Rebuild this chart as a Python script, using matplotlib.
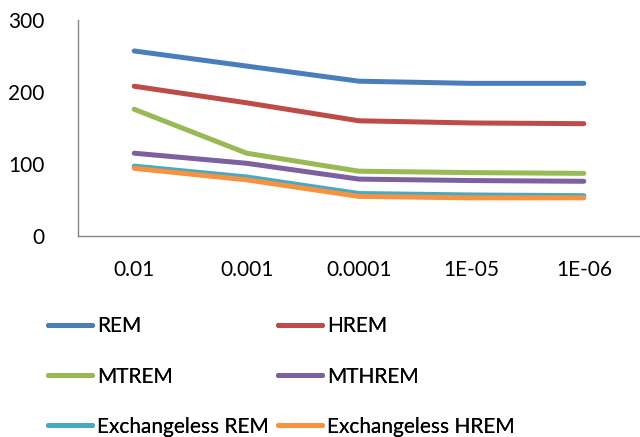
import matplotlib.pyplot as plt

plt.rcParams['font.family'] = ['Lato', 'DejaVu Sans']

categories = ['0.01', '0.001', '0.0001', '1E-05', '1E-06']
rem = [257, 236, 215, 212, 212]
hrem = [208, 185, 160, 157, 156]
mtrem = [176, 115, 90, 88, 87]
mthrem = [115, 101, 79, 77, 76]
exch_rem = [97, 82, 59, 57, 56]
exch_hrem = [94, 78, 55, 53, 53]

series = [
    ('REM', rem, '#4A7EBB'),
    ('HREM', hrem, '#BE4B48'),
    ('MTREM', mtrem, '#98B954'),
    ('MTHREM', mthrem, '#7D60A0'),
    ('Exchangeless REM', exch_rem, '#46AAC5'),
    ('Exchangeless HREM', exch_hrem, '#F69240'),
]

fig = plt.figure(figsize=(6.4, 4.37), dpi=100)
ax = fig.add_axes([78 / 640, 1 - 236 / 437, 1 - 78 / 640, 216 / 437])

x = range(len(categories))
lines = {}
for name, vals, col in series:
    ln, = ax.plot(x, vals, color=col, lw=3.6, solid_capstyle='round',
                  solid_joinstyle='round', label=name)
    lines[name] = ln

ax.set_xlim(-0.5, len(categories) - 0.5)
ax.set_ylim(0, 300)
ax.set_yticks([0, 100, 200, 300])
ax.set_xticks(list(x))
ax.set_xticklabels(categories)
ax.tick_params(length=0, labelsize=15, colors='black')
ax.tick_params(axis='x', pad=17)
ax.tick_params(axis='y', pad=24)

for s in ['top', 'right']:
    ax.spines[s].set_visible(False)
for s in ['left', 'bottom']:
    ax.spines[s].set_color('#868686')
    ax.spines[s].set_linewidth(1.0)

# two legend columns placed separately
cols = [(['REM', 'MTREM', 'Exchangeless REM'], 40),
        (['HREM', 'MTHREM', 'Exchangeless HREM'], 270)]
for names, xpx in cols:
    leg = fig.legend([lines[n] for n in names], names, loc='upper left',
                     bbox_to_anchor=(xpx / 640, 1 - 308 / 437),
                     borderaxespad=0, frameon=False, fontsize=15,
                     handlelength=2.1, handletextpad=0.25, labelspacing=1.45)
    fig.add_artist(leg)

fig.savefig('out.png', dpi=100)
